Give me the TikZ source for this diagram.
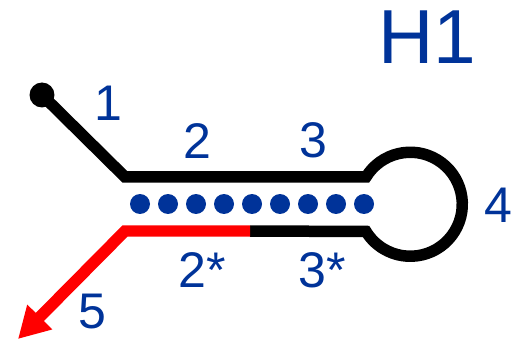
\documentclass[tikz,border=0pt]{standalone}
\usepackage{fontspec}
\setmainfont{Liberation Sans}
\usetikzlibrary{arrows.meta,positioning}
\definecolor{hblue}{RGB}{0,51,153}
\definecolor{hred}{RGB}{255,0,0}

\begin{document}
\begin{tikzpicture}[x=0.02cm,y=0.02cm,
	strand/.style={line width=0.23cm,line join=miter},
	lbl/.style={text=hblue,inner sep=0pt,font=\fontsize{28.5}{30}\selectfont},
	pair/.style={circle,fill=hblue,inner sep=0pt,minimum size=0.4cm}]
	\useasboundingbox (0,0) rectangle (519,341);
	\node[circle,fill,inner sep=0pt,minimum size=0.5cm] (S) at (42,246) {};
	\coordinate (A) at (125,164);
	\coordinate (B) at (366,164);
	\coordinate (D) at (250,110);
	\coordinate (E) at (125,110);
	\coordinate (F) at (18,2);
	\draw[strand] (S.center) -- (A) -- (B) arc[start angle=148.4,end angle=-148.4,radius=52] -- (D);
	\draw[strand,hred,-{Triangle[length=0.62cm,width=0.66cm]}] (D) -- (E) -- (F);
	\foreach \i in {0,...,8}
		\node[pair] (P\i) at (140+28*\i,137) {};
	\node[lbl] (L1) at (108,238) {1};
	\node[lbl] (L2) at (197,200) {2};
	\node[lbl] (L3) at (313,201) {3};
	\node[lbl] (L4) at (498,136) {4};
	\node[lbl] (L2s) at (202,71) {2*};
	\node[lbl] (L3s) at (322,71) {3*};
	\node[lbl] (L5) at (92,29) {5};
	\node[lbl,font=\fontsize{43.6}{46}\selectfont] (H) at (427,304) {H1};
\end{tikzpicture}
\end{document}
